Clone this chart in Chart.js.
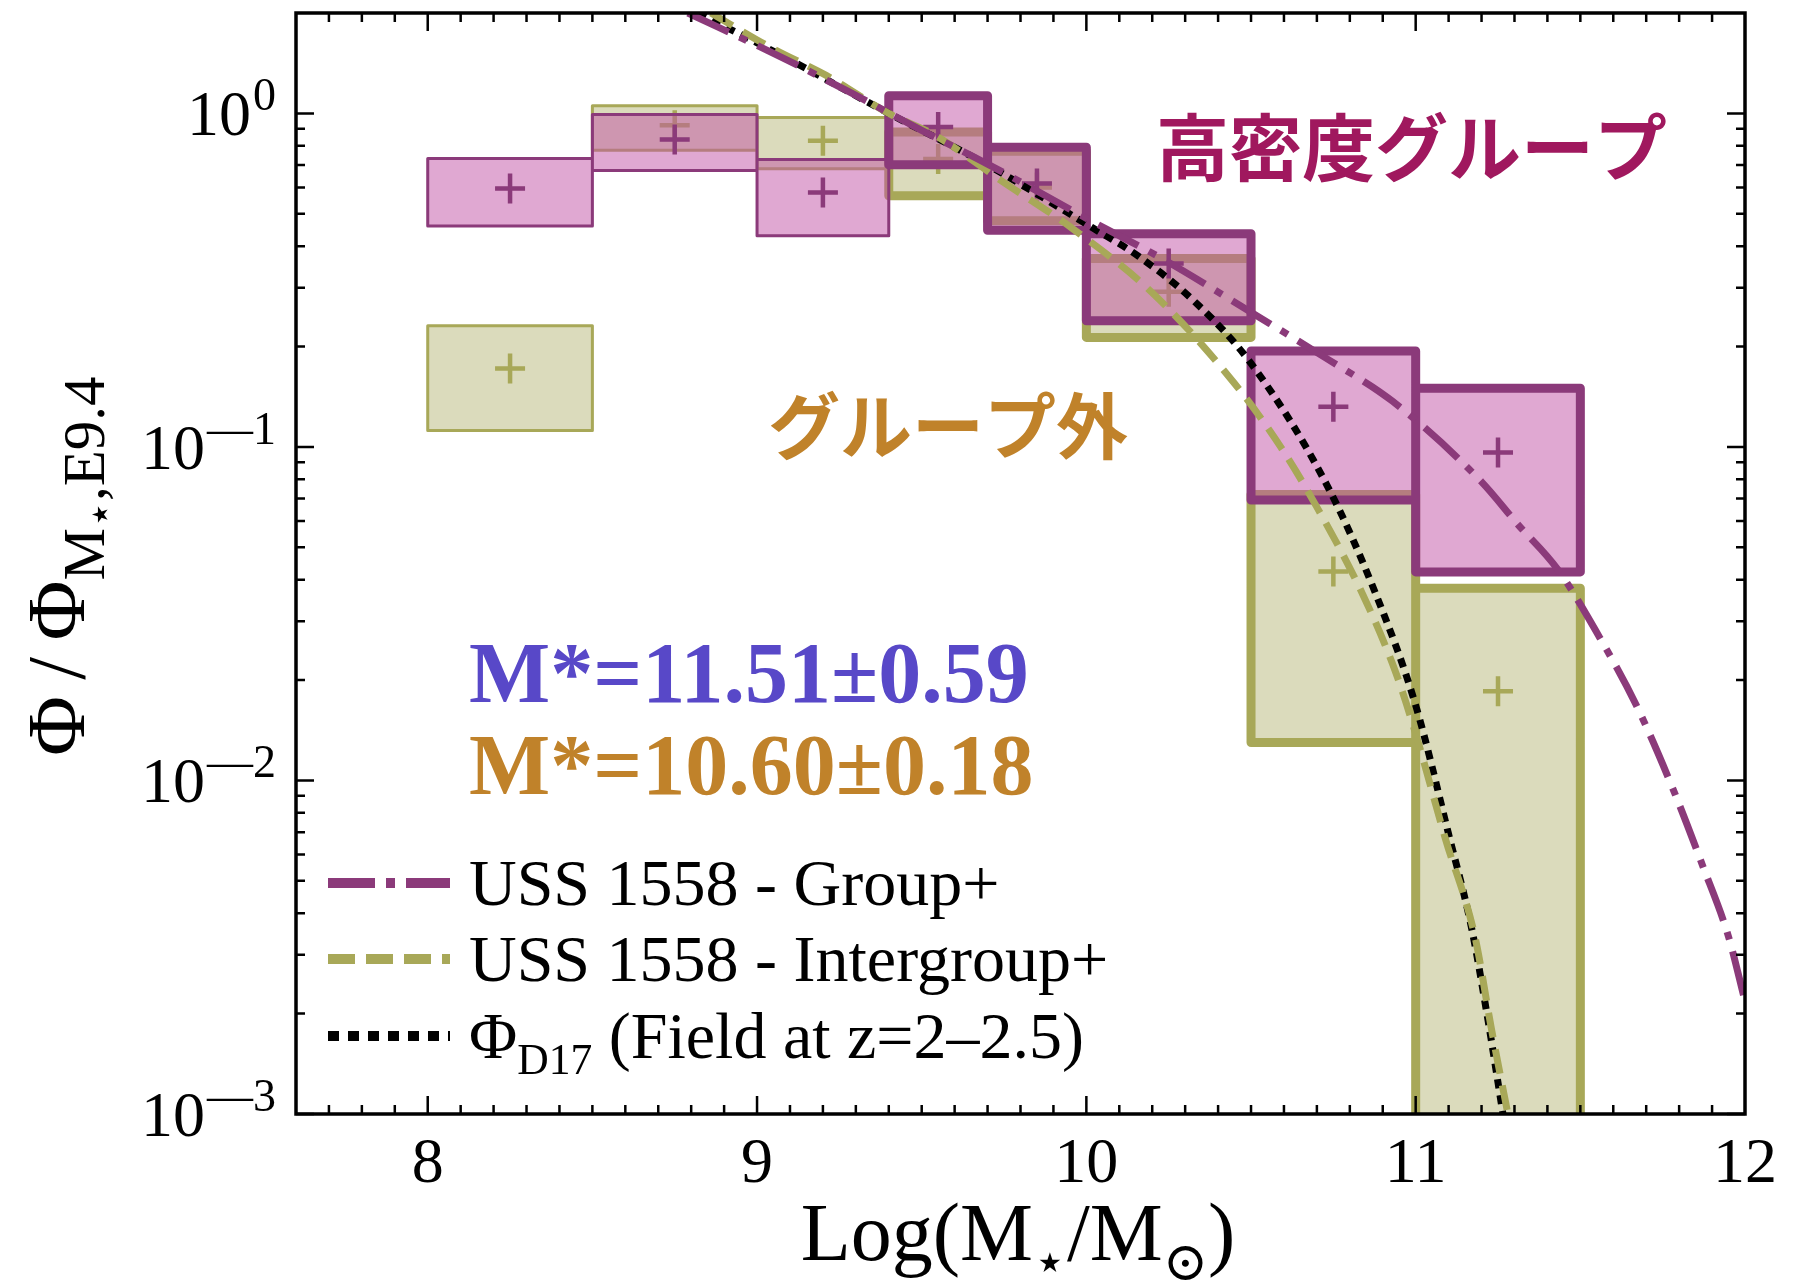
<!DOCTYPE html>
<html>
<head>
<meta charset="utf-8">
<title>USS 1558 stellar mass function</title>
<script src="https://cdn.jsdelivr.net/npm/chart.js"></script>
<style>
  html, body { margin: 0; padding: 0; background: #fff; }
  #wrap { width: 1804px; height: 1286px; position: relative; }
</style>
</head>
<body>
<div id="wrap"><canvas id="smfChart"></canvas></div>
<script>
    // Mass bins, log(M*/Msun)
    const binLow    = [8.0, 8.5, 9.0, 9.4, 9.7, 10.0, 10.5, 11.0];
    const binHigh   = [8.5, 9.0, 9.4, 9.7, 10.0, 10.5, 11.0, 11.5];
    const binCenter = [8.25, 8.75, 9.2, 9.55, 9.85, 10.25, 10.75, 11.25];

    // Group members: value and 1-sigma range
    const groupPhi  = [0.595, 0.835, 0.579, 0.91, 0.616, 0.355, 0.132, 0.0963];
    const groupLow  = [0.460, 0.674, 0.430, 0.701, 0.446, 0.239, 0.0693, 0.0422];
    const groupHigh = [0.732, 0.992, 0.727, 1.13, 0.792, 0.436, 0.194, 0.150];

    // Intergroup galaxies
    const interPhi  = [0.172, 0.922, 0.828, 0.73, 0.60, 0.292, 0.0423, 0.0185];
    const interLow  = [0.112, 0.776, 0.683, 0.566, 0.477, 0.213, 0.0130, 0.0005];
    const interHigh = [0.231, 1.054, 0.972, 0.88, 0.77, 0.367, 0.072, 0.0377];

    // Fitted curves
    const groupFitM   = [8.79, 9.07, 9.28, 9.50, 9.70, 10.02, 10.23, 10.51, 10.73, 10.93, 11.20, 11.31, 11.43, 11.56, 11.67, 11.78, 11.87, 11.95, 12.00];
    const groupFitPhi = [2.00, 1.48, 1.16, 0.89, 0.705, 0.473, 0.367, 0.250, 0.184, 0.137, 0.0786, 0.0586, 0.0431, 0.0267, 0.0168, 0.0095, 0.0056, 0.0034, 0.00218];
    const interFitM   = [8.86, 9.05, 9.21, 9.40, 9.54, 9.74, 9.96, 10.20, 10.45, 10.59, 10.70, 10.84, 10.94, 11.00, 11.09, 11.18, 11.23, 11.28];
    const interFitPhi = [2.00, 1.56, 1.30, 1.00, 0.86, 0.63, 0.45, 0.29, 0.155, 0.100, 0.066, 0.036, 0.021, 0.0138, 0.0067, 0.0034, 0.0018, 0.001];
    const fieldM      = [8.82, 9.07, 9.40, 9.70, 10.02, 10.16, 10.33, 10.50, 10.73, 10.88, 11.00, 11.10, 11.17, 11.22, 11.265];
    const fieldPhi    = [2.00, 1.50, 1.00, 0.70, 0.453, 0.372, 0.272, 0.178, 0.077, 0.036, 0.0168, 0.0069, 0.0036, 0.0019, 0.001];

    // Axis ticks
    const xTicks = [8, 9, 10, 11, 12];
    const yTicks = [1, 0.1, 0.01, 0.001];
    const yTickExp = ['0', '\u20141', '\u20142', '\u20143'];

    const magentaLine = '#8B3A7A';
    const magentaFill = 'rgba(193, 81, 165, 0.5)';
    const oliveLine = '#A8A858';
    const oliveFill = 'rgba(183, 183, 121, 0.5)';
    const serif = "'Liberation Serif', 'DejaVu Serif', serif";
    const thickFrom = 3; // bins from here on get the heavy outline

    // closed rectangles, one per bin, separated by gaps
    function boxes(idx, lo, hi) {
        const pts = [];
        idx.forEach(i => {
            pts.push({x: binLow[i], y: lo[i]}, {x: binLow[i], y: hi[i]},
                     {x: binHigh[i], y: hi[i]}, {x: binHigh[i], y: lo[i]},
                     {x: binLow[i], y: lo[i]}, {x: binLow[i], y: null});
        });
        return pts;
    }
    const thinIdx = binLow.map((v, i) => i).filter(i => i < thickFrom);
    const thickIdx = binLow.map((v, i) => i).filter(i => i >= thickFrom);
    const pairs = (xs, ys) => xs.map((x, i) => ({x: x, y: ys[i]}));

    function boxSet(label, idx, lo, hi, line, fillCol, width) {
        return {
            label: label, data: boxes(idx, lo, hi), showLine: true, spanGaps: false,
            fill: 'shape', backgroundColor: fillCol, borderColor: line, borderWidth: width,
            borderJoinStyle: 'round', borderCapStyle: 'round', pointRadius: 0, clip: 0
        };
    }
    function curveSet(label, xs, ys, color, dash, legendDash) {
        return {
            label: label, data: pairs(xs, ys), showLine: true, fill: false,
            borderColor: color, borderWidth: 7, borderDash: dash, borderCapStyle: 'butt',
            cubicInterpolationMode: 'monotone', pointRadius: 0, clip: 0, legendDash: legendDash
        };
    }
    function plusSet(label, ys, color) {
        return {
            label: label, data: pairs(binCenter, ys), showLine: false,
            pointStyle: 'cross', pointRadius: 15, pointBorderWidth: 4.5,
            borderColor: color, backgroundColor: color
        };
    }

    const curves = [
        curveSet('USS 1558 - Group+', groupFitM, groupFitPhi, magentaLine, [45, 12, 8, 12], [47, 11, 9, 11]),
        curveSet('USS 1558 - Intergroup+', interFitM, interFitPhi, oliveLine, [25, 12], [27, 11]),
        curveSet('ΦD17 (Field at z=2–2.5)', fieldM, fieldPhi, '#000000', [9, 7], [11, 9])
    ];

    // legend rows drawn inside the frame; subscripts split out
    const legendParts = [
        [{t: 'USS 1558 - Group+'}],
        [{t: 'USS 1558 - Intergroup+'}],
        [{t: 'Φ'}, {t: 'D17', lv: 1}, {t: ' (Field at z=2–2.5)'}]
    ];

    function richWidth(ctx, parts, size, family) {
        let w = 0;
        parts.forEach(p => {
            const s = size * Math.pow(0.66, p.lv || 0);
            ctx.font = s + 'px ' + family;
            w += ctx.measureText(p.t).width;
        });
        return w;
    }
    function drawRich(ctx, parts, x, y, size, family, subScale) {
        const k = subScale || 0.66;
        parts.forEach(p => {
            const lv = p.lv || 0;
            const s = size * Math.pow(k, lv);
            ctx.font = s + 'px ' + family;
            const dy = lv === 0 ? 0 : (lv === 1 ? size * 0.24 : size * 0.36);
            ctx.fillText(p.t, x, y + dy);
            x += ctx.measureText(p.t).width;
        });
        return x;
    }

    const decorations = {
        id: 'decorations',
        afterDatasetsDraw(chart) {
            const ctx = chart.ctx;
            const {left, right, top, bottom} = chart.chartArea;
            const xs = chart.scales.x, ys = chart.scales.y;
            ctx.save();
            ctx.strokeStyle = '#000';
            ctx.lineWidth = 2.5;
            ctx.beginPath();
            for (let k = 77; k < 120; k++) {
                const px = xs.getPixelForValue(k / 10);
                const len = k % 10 === 0 ? 18 : 9;
                ctx.moveTo(px, bottom); ctx.lineTo(px, bottom - len);
                ctx.moveTo(px, top); ctx.lineTo(px, top + len);
            }
            for (let d = -3; d <= 0; d++) {
                for (let m = 1; m <= 9; m++) {
                    const v = m * Math.pow(10, d);
                    if (v >= 2) break;
                    const py = ys.getPixelForValue(v);
                    const len = m === 1 ? 18 : 9;
                    ctx.moveTo(left, py); ctx.lineTo(left + len, py);
                    ctx.moveTo(right, py); ctx.lineTo(right - len, py);
                }
            }
            ctx.stroke();
            ctx.lineWidth = 3.5;
            ctx.strokeRect(left, top, right - left, bottom - top);
            ctx.restore();
        },
        afterDraw(chart) {
            const ctx = chart.ctx;
            const ys = chart.scales.y;
            ctx.save();
            ctx.fillStyle = '#000';
            ctx.textBaseline = 'alphabetic';

            // y tick labels 10^n
            yTicks.forEach((v, i) => {
                const py = ys.getPixelForValue(v);
                ctx.font = '46px ' + serif;
                const ew = ctx.measureText(yTickExp[i]).width;
                ctx.textAlign = 'right';
                ctx.fillText(yTickExp[i], 276, py - 3);
                ctx.font = '64px ' + serif;
                ctx.fillText('10', 276 - ew - 2, py + 22);
            });
            ctx.textAlign = 'left';

            // axis titles
            const xTitle = [{t: 'Log(M'}, {t: '⋆', lv: 1}, {t: '/M'}, {t: '⊙', lv: 1}, {t: ')'}];
            const xw = richWidth(ctx, xTitle, 82, serif);
            drawRich(ctx, xTitle, 1018 - xw / 2, 1260, 82, serif);

            ctx.save();
            ctx.translate(84, 756);
            ctx.rotate(-Math.PI / 2);
            drawRich(ctx, [{t: 'Φ\u2009/\u2009Φ'}, {t: 'M', lv: 1}, {t: '⋆', lv: 2}, {t: ',E9.4', lv: 1}], 0, 0, 82, serif, 0.72);
            ctx.restore();

            // legend
            const rowY = [905, 981, 1058];
            chart.data.datasets.slice(0, 3).forEach((ds, i) => {
                const ly = rowY[i] - 22;
                ctx.save();
                ctx.strokeStyle = ds.borderColor;
                ctx.lineWidth = 10;
                ctx.setLineDash(ds.legendDash);
                ctx.beginPath();
                ctx.moveTo(328, ly); ctx.lineTo(450, ly);
                ctx.stroke();
                ctx.restore();
                drawRich(ctx, legendParts[i], 469, rowY[i], 66, serif);
            });

            // labels inside the plot
            ctx.font = 'bold 73px "Noto Sans CJK JP"';
            ctx.textBaseline = 'middle';
            ctx.fillStyle = '#A0185E';
            ctx.fillText('高密度グループ', 1156, 147);
            ctx.fillStyle = '#C0822A';
            ctx.font = 'bold 72px "Noto Sans CJK JP"';
            ctx.fillText('グループ外', 768, 426);

            ctx.textBaseline = 'alphabetic';
            ctx.font = 'bold 86px ' + serif;
            ctx.fillStyle = '#5848C8';
            ctx.fillText('M*=11.51±0.59', 469, 702);
            ctx.fillStyle = '#C0822A';
            ctx.fillText('M*=10.60±0.18', 469, 794);
            ctx.restore();
        }
    };

    const smfCtx = document.getElementById('smfChart').getContext('2d');
    const smfChart = new Chart(smfCtx, {
        type: 'scatter',
        data: {
            datasets: [
                ...curves,
                plusSet('Group', groupPhi, magentaLine),
                boxSet('Group heavy', thickIdx, groupLow, groupHigh, magentaLine, magentaFill, 9),
                boxSet('Group light', thinIdx, groupLow, groupHigh, magentaLine, magentaFill, 3),
                plusSet('Intergroup', interPhi, oliveLine),
                boxSet('Intergroup heavy', thickIdx, interLow, interHigh, oliveLine, oliveFill, 9),
                boxSet('Intergroup light', thinIdx, interLow, interHigh, oliveLine, oliveFill, 3)
            ]
        },
        options: {
            animation: false,
            responsive: true,
            maintainAspectRatio: false,
            layout: { autoPadding: false, padding: { top: 13, right: 59, left: 0, bottom: 0 } },
            plugins: { legend: { display: false }, tooltip: { enabled: false } },
            scales: {
                x: {
                    type: 'linear', min: 7.6, max: 12,
                    grid: { display: false, drawTicks: false },
                    border: { display: false },
                    afterBuildTicks: s => { s.ticks = xTicks.map(v => ({ value: v })); },
                    afterFit: s => { s.height = 172; s.paddingLeft = 0; s.paddingRight = 0; },
                    ticks: {
                        font: { family: serif, size: 64 }, color: '#000', padding: 13, maxRotation: 0,
                        callback: v => String(v)
                    }
                },
                y: {
                    type: 'logarithmic', min: 0.001, max: 2,
                    grid: { display: false, drawTicks: false },
                    border: { display: false },
                    ticks: { display: false },
                    afterFit: s => { s.width = 296; s.paddingTop = 0; s.paddingBottom = 0; }
                }
            }
        },
        plugins: [decorations]
    });
</script>
</body>
</html>
